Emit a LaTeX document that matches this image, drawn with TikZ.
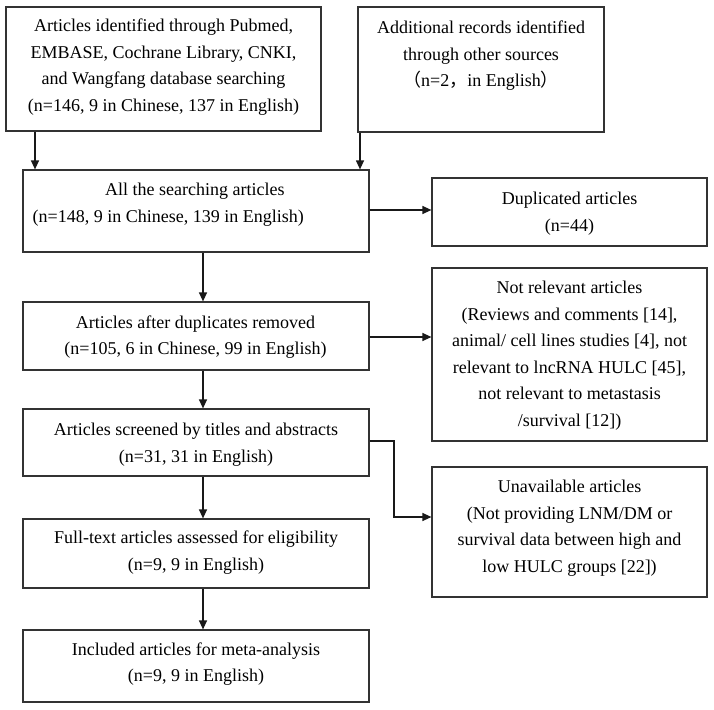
\documentclass[tikz,border=0pt]{standalone}
\usepackage{fontspec}
\setmainfont{Liberation Serif}
\newfontfamily\cjk{Noto Sans CJK SC}
\usetikzlibrary{arrows.meta}
\begin{document}
\begin{tikzpicture}[x=1pt,y=-1pt,
  bx/.style={draw=black!80, line width=1.2pt, inner sep=0pt},
  txt/.style={inner sep=0pt, align=center, font=\fontsize{18}{26.5}\selectfont},
  arr/.style={draw=black!90, line width=1.2pt, -{Triangle[length=9pt,width=8pt]}}]
\useasboundingbox (0,0) rectangle (714,709);
% boxes
\node[bx, minimum width=315pt, minimum height=124pt] (b1) at (163.5,69) {};
\node[bx, minimum width=246pt, minimum height=125pt] (b2) at (481,69.5) {};
\node[bx, minimum width=346pt, minimum height=82pt] (b3) at (196,211) {};
\node[bx, minimum width=275pt, minimum height=68pt] (dup) at (569.5,212) {};
\node[bx, minimum width=346pt, minimum height=68pt] (b4) at (196,336) {};
\node[bx, minimum width=275pt, minimum height=173pt] (nr) at (569.5,354.5) {};
\node[bx, minimum width=346pt, minimum height=67pt] (b5) at (196,442.5) {};
\node[bx, minimum width=275pt, minimum height=130pt] (ua) at (569.5,532) {};
\node[bx, minimum width=346pt, minimum height=69pt] (b6) at (196,553.5) {};
\node[bx, minimum width=346pt, minimum height=72pt] (b7) at (196,666) {};
% texts
\node[txt] (t1) at (163.5,67) {Articles identified through Pubmed,\\EMBASE, Cochrane Library, CNKI,\\and Wangfang database searching\\(n=146, 9 in Chinese, 137 in English)};
\node[txt] (t2) at (481,67) {Additional records identified\\through other sources\\{\cjk （}n=2{\cjk ，}in English{\cjk ）}\\\mbox{}};
\node[txt, align=left, anchor=west] (t3) at (32.5,204.5) {\hspace*{72.5pt}All the searching articles\\(n=148, 9 in Chinese, 139 in English)};
\node[txt] (tdup) at (569.5,213.5) {Duplicated articles\\(n=44)};
\node[txt] (t4) at (195.5,337) {Articles after duplicates removed\\(n=105, 6 in Chinese, 99 in English)};
\node[txt] (tnr) at (569.5,355.5) {Not relevant articles\\(Reviews and comments [14],\\animal/ cell lines studies [4], not\\relevant to lncRNA HULC [45],\\not relevant to metastasis\\/survival [12])};
\node[txt] (t5) at (196,444.5) {Articles screened by titles and abstracts\\(n=31, 31 in English)};
\node[txt] (tua) at (569.5,528) {Unavailable articles\\(Not providing LNM/DM or\\survival data between high and\\low HULC groups [22])};
\node[txt] (t6) at (196,552.5) {Full-text articles assessed for eligibility\\(n=9, 9 in English)};
\node[txt] (t7) at (196,664) {Included articles for meta-analysis\\(n=9, 9 in English)};
% helper coordinates
\coordinate (c1) at (35,0);
\coordinate (c2) at (360,0);
\coordinate (cv) at (203,0);
\coordinate (h3) at (0,210);
\coordinate (h4) at (0,337);
\coordinate (e1) at (394,441);
\coordinate (e2) at (394,517);
% connectors
\draw[arr] (b1.south -| c1) -- (b3.north -| c1);
\draw[arr] (b2.south -| c2) -- (b3.north -| c2);
\draw[arr] (b3.east |- h3) -- (dup.west |- h3);
\draw[arr] (b3.south -| cv) -- (b4.north -| cv);
\draw[arr] (b4.east |- h4) -- (nr.west |- h4);
\draw[arr] (b4.south -| cv) -- (b5.north -| cv);
\draw[arr] (b5.south -| cv) -- (b6.north -| cv);
\draw[arr] (b6.south -| cv) -- (b7.north -| cv);
\draw[arr] (b5.east |- e1) -- (e1) -- (e2) -- (ua.west |- e2);
\end{tikzpicture}
\end{document}
